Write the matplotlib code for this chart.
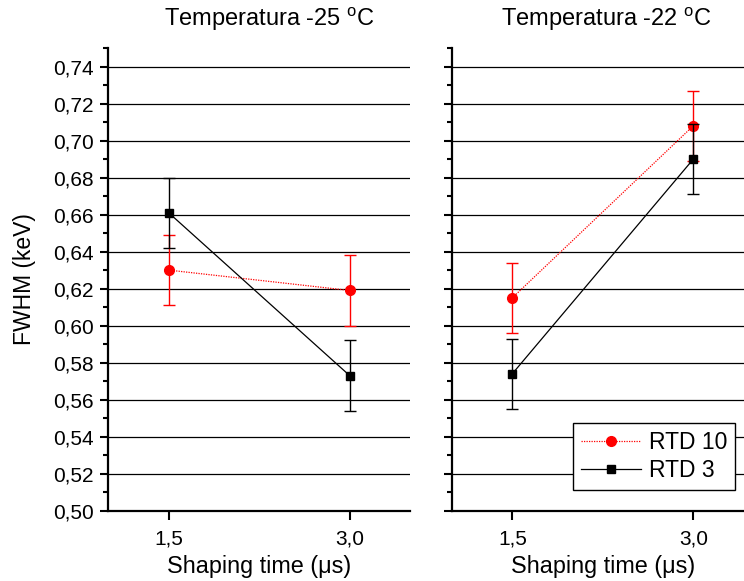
import matplotlib
matplotlib.use("Agg")
import matplotlib.pyplot as plt
from matplotlib.lines import Line2D
from matplotlib.ticker import MultipleLocator, FixedLocator, FuncFormatter

plt.rcParams['font.family'] = ['Liberation Sans', 'DejaVu Sans']
plt.rcParams['mathtext.fontset'] = 'custom'
plt.rcParams['mathtext.rm'] = 'Liberation Sans'

# Data
shaping_time = [1.5, 3.0]
x_ticks = [1.5, 3.0]
x_tick_labels = ['1,5', '3,0']
titles = ['Temperatura -25 $^{\\mathrm{o}}$C', 'Temperatura -22 $^{\\mathrm{o}}$C']

rtd10_m25 = [0.630, 0.619]
rtd10_m25_err = [0.019, 0.019]
rtd3_m25 = [0.661, 0.573]
rtd3_m25_err = [0.019, 0.019]

rtd10_m22 = [0.615, 0.708]
rtd10_m22_err = [0.019, 0.019]
rtd3_m22 = [0.574, 0.690]
rtd3_m22_err = [0.019, 0.019]

W, H = 744, 581
fig = plt.figure(figsize=(W / 100, H / 100), dpi=100)

def px_axes(x0, y_top, w, h):
    return fig.add_axes([x0 / W, 1 - (y_top + h) / H, w / W, h / H])

ax1 = px_axes(108.3, 48, 301.7, 462.7)
ax2 = px_axes(452.0, 48, 301.7, 462.7)

panels = [
    (ax1, rtd10_m25, rtd10_m25_err, rtd3_m25, rtd3_m25_err, titles[0], 0.533),
    (ax2, rtd10_m22, rtd10_m22_err, rtd3_m22, rtd3_m22_err, titles[1], 0.512),
]

for i, (ax, r10, r10e, r3, r3e, title, tx) in enumerate(panels):
    ax.set_xlim(1.0, 3.5)
    ax.set_ylim(0.50, 0.75)
    for y in [0.52, 0.54, 0.56, 0.58, 0.60, 0.62, 0.64, 0.66, 0.68, 0.70, 0.72, 0.74]:
        ax.axhline(y, color='black', lw=0.9, zorder=1)
    ax.errorbar(shaping_time, r10, yerr=r10e, color='red', ecolor='red',
                ls=(0, (1, 1)), lw=0.9, marker='o', ms=7, elinewidth=1.0,
                capsize=4, capthick=1.0, zorder=3)
    ax.errorbar(shaping_time, r3, yerr=r3e, color='black', ecolor='black',
                ls='-', lw=0.9, marker='s', ms=5.8, elinewidth=1.0,
                capsize=4, capthick=1.0, zorder=4)
    for s in ['top', 'right']:
        ax.spines[s].set_visible(False)
    for s in ['left', 'bottom']:
        ax.spines[s].set_linewidth(1.6)
    ax.xaxis.set_major_locator(FixedLocator(x_ticks))
    ax.set_xticklabels(x_tick_labels)
    ax.yaxis.set_major_locator(MultipleLocator(0.02))
    ax.yaxis.set_minor_locator(MultipleLocator(0.01))
    ax.yaxis.set_major_formatter(FuncFormatter(lambda v, p: f"{v:.2f}".replace('.', ',')))
    ax.tick_params(axis='x', which='major', direction='out', length=6.5, width=1.5,
                   labelsize=15, pad=7)
    ax.tick_params(axis='y', which='major', direction='out', length=6, width=1.5,
                   labelsize=15, pad=4.5)
    ax.tick_params(axis='y', which='minor', direction='out', length=3.5, width=1.5)
    ax.set_title(title, fontsize=17, x=tx, pad=16)
    ax.set_xlabel('Shaping time (\u03bcs)', fontsize=16.8, labelpad=5)
    if i == 1:
        ax.tick_params(axis='y', labelleft=False)
    ax.set_facecolor('none')

ax1.set_ylabel('FWHM (keV)', fontsize=16.5)
ax1.yaxis.set_label_coords((36 - 108.3) / 301.7, 0.5)

handles = [
    Line2D([], [], color='red', ls=(0, (1, 1)), lw=0.9, marker='o', ms=7),
    Line2D([], [], color='black', ls='-', lw=0.9, marker='s', ms=5.8),
]
leg = fig.legend(handles, ['RTD 10', 'RTD 3'], loc='upper left',
                 bbox_to_anchor=(573.3 / W, 1 - 422.7 / H), bbox_transform=fig.transFigure,
                 borderaxespad=0, fontsize=16.5, frameon=True, fancybox=False,
                 edgecolor='black', framealpha=1, handlelength=2.6, handletextpad=0.35,
                 labelspacing=0.25, borderpad=0.35)
leg.get_frame().set_linewidth(1.0)

fig.savefig('out.png', dpi=100)
